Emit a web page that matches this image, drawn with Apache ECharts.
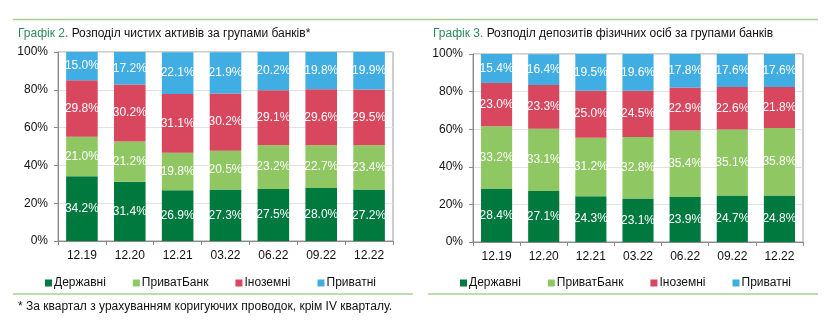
<!DOCTYPE html>
<html>
<head>
<meta charset="utf-8">
<script src="https://cdn.jsdelivr.net/npm/echarts@6/dist/echarts.min.js"></script>
<style>
html,body{margin:0;padding:0;background:#fff;}
#c{width:827px;height:323px;}
</style>
</head>
<body>
<div id="c"></div>
<script>
var categories = ['12.19','12.20','12.21','03.22','06.22','09.22','12.22'];
var seriesNames = ['Державні','ПриватБанк','Іноземні','Приватні'];
// Графік 2 — чисті активи
var assetsState   = [34.2, 31.4, 26.9, 27.3, 27.5, 28.0, 27.2];
var assetsPrivat  = [21.0, 21.2, 19.8, 20.5, 23.2, 22.7, 23.4];
var assetsForeign = [29.8, 30.2, 31.1, 30.2, 29.1, 29.6, 29.5];
var assetsPrivate = [15.0, 17.2, 22.1, 21.9, 20.2, 19.8, 19.9];
// Графік 3 — депозити фізичних осіб
var depState   = [28.4, 27.1, 24.3, 23.1, 23.9, 24.7, 24.8];
var depPrivat  = [33.2, 33.1, 31.2, 32.8, 35.4, 35.1, 35.8];
var depForeign = [23.0, 23.3, 25.0, 24.5, 22.9, 22.6, 21.8];
var depPrivate = [15.4, 16.4, 19.5, 19.6, 17.8, 17.6, 17.6];
var yTicks = [0, 20, 40, 60, 80, 100];

var colors = ['#00793F', '#8FC862', '#D9475F', '#40ADE3'];
var FONT = '"Liberation Sans", Arial, sans-serif';
var lineColor = '#A9CF94';

var chart = echarts.init(document.getElementById('c'), null, {renderer: 'canvas'});

function xAxis(gi) {
  return {
    type: 'category', gridIndex: gi, data: categories,
    axisLine: {lineStyle: {color: '#8a8a8a', width: 1}},
    axisTick: {show: true, length: 4, lineStyle: {color: '#8a8a8a'}},
    axisLabel: {color: '#111', fontSize: 12, fontFamily: FONT, margin: 9}
  };
}
function yAxis(gi) {
  return {
    type: 'value', gridIndex: gi, min: yTicks[0], max: yTicks[yTicks.length - 1], interval: 20,
    axisLine: {show: true, lineStyle: {color: '#8a8a8a', width: 1}},
    axisTick: {show: true, length: 4, lineStyle: {color: '#8a8a8a'}},
    axisLabel: {color: '#111', fontSize: 12, fontFamily: FONT, margin: 10, formatter: '{value}%'},
    splitLine: {show: true, lineStyle: {color: '#e2e2e2', width: 1}}
  };
}
function mkSeries(gi, arrs) {
  return arrs.map(function (arr, i) {
    return {
      name: seriesNames[i], type: 'bar', stack: 's' + gi,
      xAxisIndex: gi, yAxisIndex: gi, barWidth: '66%',
      itemStyle: {color: colors[i]},
      label: {show: true, position: 'inside', color: '#fff', fontSize: 12, fontFamily: FONT,
        formatter: function (p) { return p.value.toFixed(1) + '%'; }},
      emphasis: {disabled: true},
      data: arr
    };
  });
}

var legendCommon = {
  icon: 'rect', itemWidth: 7, itemHeight: 7, itemGap: 27,
  textStyle: {color: '#111', fontSize: 12, fontFamily: FONT, padding: [0, 0, 0, -3]},
  data: seriesNames.map(function (n, i) { return {name: n, itemStyle: {color: colors[i]}}; })
};

var richTitle = {
  a: {color: '#2E8A5A', fontSize: 12, fontWeight: 'normal', fontFamily: FONT},
  b: {color: '#111', fontSize: 12, fontWeight: 'normal', fontFamily: FONT}
};

var option = {
  animation: false,
  color: colors,
  title: [
    {text: '{a|Графік 2.} {b|Розподіл чистих активів за групами банків*}', left: 13, top: 23,
      textStyle: {fontWeight: 'normal', fontSize: 12, rich: richTitle}},
    {text: '{a|Графік 3.} {b|Розподіл депозитів фізичних осіб за групами банків}', left: 428, top: 23,
      textStyle: {fontWeight: 'normal', fontSize: 12, rich: richTitle}},
    {text: '* За квартал з урахуванням коригуючих проводок, крім IV кварталу.', left: 13, top: 296,
      textStyle: {color: '#111', fontSize: 12, fontWeight: 'normal', fontFamily: FONT}}
  ],
  grid: [
    {left: 58, top: 52, width: 335, height: 189, show: true, borderColor: '#9a9a9a', borderWidth: 1, containLabel: false},
    {left: 473, top: 54, width: 330, height: 188, show: true, borderColor: '#9a9a9a', borderWidth: 1, containLabel: false}
  ],
  xAxis: [xAxis(0), xAxis(1)],
  yAxis: [yAxis(0), yAxis(1)],
  legend: [
    Object.assign({left: 40, top: 272}, legendCommon),
    Object.assign({left: 455, top: 272}, legendCommon)
  ],
  series: mkSeries(0, [assetsState, assetsPrivat, assetsForeign, assetsPrivate])
    .concat(mkSeries(1, [depState, depPrivat, depForeign, depPrivate])),
  graphic: [
    {type: 'line', shape: {x1: 13, y1: 19.5, x2: 818, y2: 19.5}, style: {stroke: lineColor, lineWidth: 1.5}, silent: true},
    {type: 'line', shape: {x1: 13, y1: 294, x2: 413, y2: 294}, style: {stroke: lineColor, lineWidth: 1.5}, silent: true},
    {type: 'line', shape: {x1: 428, y1: 294, x2: 818, y2: 294}, style: {stroke: lineColor, lineWidth: 1.5}, silent: true}
  ]
};
chart.setOption(option);
</script>
</body>
</html>
